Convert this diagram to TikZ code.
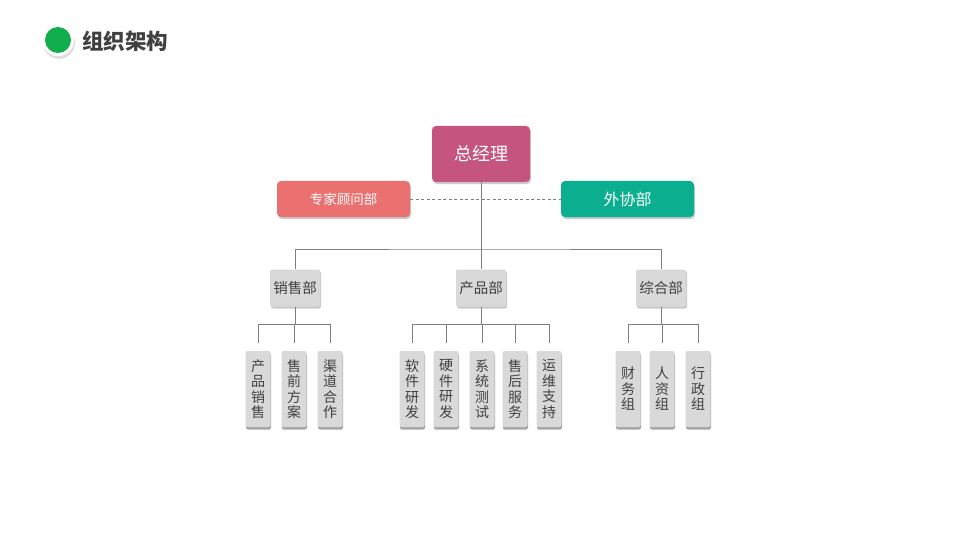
\documentclass[tikz,border=0pt]{standalone}
\usepackage{fontspec}
\setmainfont{Noto Sans CJK SC}
\usetikzlibrary{shadows}
\definecolor{zjlc}{HTML}{C5547F}
\definecolor{zjc}{HTML}{EB7171}
\definecolor{wxc}{HTML}{0BAF8F}
\definecolor{boxg}{HTML}{D9D9D9}
\definecolor{linec}{HTML}{7F7F7F}
\definecolor{txtg}{HTML}{404040}
\definecolor{greenc}{HTML}{10AE4C}
\tikzset{
  x=1pt,y=-1pt,
  topbox/.style={fill=#1, text=white, rounded corners=4pt, inner sep=0pt,
    drop shadow={shadow xshift=1pt, shadow yshift=-2pt, opacity=0.35, fill=black!60}},
  deptbox/.style={fill=boxg, text=txtg, rounded corners=2pt, inner sep=0pt,
    minimum width=50pt, minimum height=37pt, font=\fontsize{14.5pt}{17pt}\selectfont,
    drop shadow={shadow xshift=1pt, shadow yshift=-2pt, opacity=0.35, fill=black!60}},
  subbox/.style={fill=boxg, text=txtg, rounded corners=2pt, inner sep=0pt,
    minimum width=25pt, minimum height=76pt, align=center,
    font=\fontsize{14pt}{15.5pt}\selectfont,
    drop shadow={shadow xshift=0.5pt, shadow yshift=-2.5pt, opacity=0.5, fill=black!70}},
  conn/.style={draw=linec, line width=0.8pt},
}
\begin{document}
\begin{tikzpicture}
\useasboundingbox (0,0) rectangle (960,540);
% title
\node[circle, fill=white, minimum size=32pt, inner sep=0pt,
  drop shadow={shadow xshift=1pt, shadow yshift=-3pt, opacity=0.25, fill=black!50}] (dotbg) at (58,40) {};
\node[circle, fill=greenc, minimum size=26pt, inner sep=0pt] (dot) at (58,40) {};
\node[anchor=west, text=txtg, font=\fontsize{21.5pt}{25pt}\selectfont\bfseries, inner sep=0pt] (title) at (82,41) {组织架构};
% top level
\node[topbox=zjlc, minimum width=98pt, minimum height=56pt, font=\fontsize{18pt}{21pt}\selectfont] (zjl) at (481,154) {总经理};
\node[topbox=zjc, minimum width=133pt, minimum height=36pt, font=\fontsize{13.5pt}{16pt}\selectfont] (zj) at (343.5,199) {专家顾问部};
\node[topbox=wxc, minimum width=133pt, minimum height=36pt, font=\fontsize{16pt}{19pt}\selectfont] (wx) at (627.5,199) {外协部};
\draw[draw=linec, line width=0.7pt, dash pattern=on 3pt off 2.5pt] (zj.east) -- (wx.west);
% departments
\node[deptbox] (xs) at (295,288) {销售部};
\node[deptbox] (cp) at (481,288) {产品部};
\node[deptbox] (zh) at (661,288) {综合部};
\coordinate (bus) at (481,249);
\draw[conn] (zjl.south) -- (bus);
\draw[conn] (xs.north) |- (bus) -| (zh.north);
\draw[conn] (bus) -- (cp.north);
% sub units
\node[subbox] (a1) at (258,389) {产\\品\\销\\售};
\node[subbox] (a2) at (294,389) {售\\前\\方\\案};
\node[subbox] (a3) at (330,389) {渠\\道\\合\\作};
\node[subbox] (b1) at (412,389) {软\\件\\研\\发};
\node[subbox] (b2) at (446,389) {硬\\件\\研\\发};
\node[subbox] (b3) at (482,389) {系\\统\\测\\试};
\node[subbox] (b4) at (515,389) {售\\后\\服\\务};
\node[subbox] (b5) at (549,389) {运\\维\\支\\持};
\node[subbox] (c1) at (628,389) {财\\务\\组};
\node[subbox] (c2) at (662,389) {人\\资\\组};
\node[subbox] (c3) at (698,389) {行\\政\\组};
\draw[conn] (xs.south) -- ++(0,18) coordinate (xsb);
\foreach \n in {a1,a2,a3} \draw[conn] (xsb) -| ([yshift=8pt]\n.north);
\draw[conn] (cp.south) -- ++(0,18) coordinate (cpb);
\foreach \n in {b1,b2,b3,b4,b5} \draw[conn] (cpb) -| ([yshift=8pt]\n.north);
\draw[conn] (zh.south) -- ++(0,18) coordinate (zhb);
\foreach \n in {c1,c2,c3} \draw[conn] (zhb) -| ([yshift=8pt]\n.north);
\end{tikzpicture}
\end{document}
